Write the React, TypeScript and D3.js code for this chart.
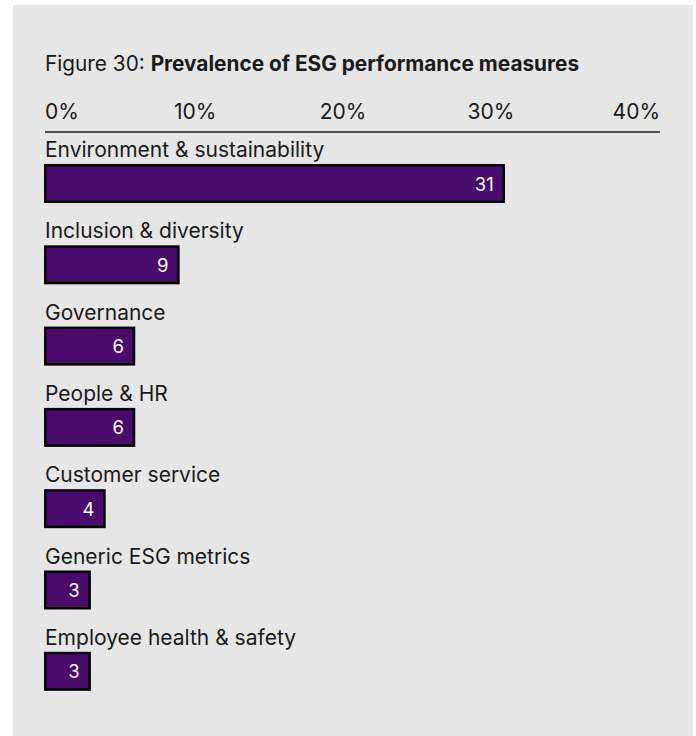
import React from "react";
import * as d3 from "d3";

const categories = [
  "Environment & sustainability",
  "Inclusion & diversity",
  "Governance",
  "People & HR",
  "Customer service",
  "Generic ESG metrics",
  "Employee health & safety",
];
const values = [31, 9, 6, 6, 4, 3, 3];
const ticks = [0, 10, 20, 30, 40];
const tickLabels = ["0%", "10%", "20%", "30%", "40%"];

const W = 696;
const H = 736;
const FONT = "'Inter', 'Liberation Sans', sans-serif";

export default function App() {
  const x = d3.scaleLinear().domain([0, 40]).range([45.25, 636.9]);
  const axisY = 132;
  const axisEnd = 660;
  const rowTop = 164;
  const rowStep = 81.3;
  const barH = 39;
  const bw = 2.5;

  return (
    <svg
      width={W}
      height={H}
      style={{ position: "absolute", left: 0, top: 0, display: "block" }}
      fontFamily={FONT}
    >
      <rect x={0} y={0} width={W} height={H} fill="#ffffff" />
      <rect x={13} y={5} width={680} height={H} fill="#e6e6e6" />
      <text x={45} y={71} fontSize={20.8} fill="#1a1a1a">
        <tspan>Figure 30: </tspan>
        <tspan fontWeight="bold">Prevalence of ESG performance measures</tspan>
      </text>
      {ticks.map((t, i) => {
        const first = i === 0;
        const last = i === ticks.length - 1;
        const tx = first ? 45 : last ? axisEnd : x(t) + 2;
        return (
          <text
            key={t}
            x={tx}
            y={119}
            fontSize={21}
            fill="#1a1a1a"
            textAnchor={first ? "start" : last ? "end" : "middle"}
          >
            {tickLabels[i]}
          </text>
        );
      })}
      <line x1={45} x2={axisEnd} y1={axisY} y2={axisY} stroke="#1a1a1a" strokeWidth={1.5} />
      {categories.map((c, i) => {
        const top = rowTop + i * rowStep;
        return (
          <g key={c}>
            <text x={45} y={top - 7} fontSize={21} fill="#1a1a1a">
              {c}
            </text>
            <rect
              x={x(0)}
              y={top + bw / 2}
              width={x(values[i]) - x(0)}
              height={barH - bw}
              fill="#4a0b6c"
              stroke="#000000"
              strokeWidth={bw}
            />
            <text
              x={x(values[i]) - 10}
              y={top + barH / 2 + 7}
              fontSize={18.5}
              fill="#ffffff"
              textAnchor="end"
            >
              {values[i]}
            </text>
          </g>
        );
      })}
    </svg>
  );
}
